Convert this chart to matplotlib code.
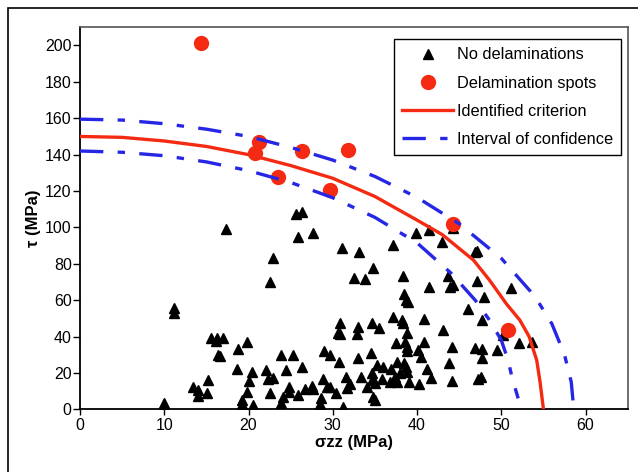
import matplotlib
matplotlib.use("Agg")
import matplotlib.pyplot as plt
from matplotlib.patches import Rectangle

# ---- data ----
no_delam_szz = [17.3, 22.9, 22.5, 11.1, 11.1, 15.6, 16.2, 17.0, 16.1, 19.8, 16.4, 16.6, 18.7, 18.6,
                20.4, 22.1, 22.3, 22.9, 20.1, 15.2, 13.4, 14.0, 14.0, 15.1, 22.5, 19.8, 19.2, 19.2,
                20.5, 10.0, 10.0,
                25.6, 26.3, 25.9, 27.6, 31.1, 33.1, 37.2, 39.9, 41.4, 43.0, 34.8, 32.5, 33.8, 38.3,
                41.4, 43.7, 43.9, 44.3, 38.4, 38.7, 38.9, 30.8, 30.6, 30.8, 33.0, 32.9, 34.6, 35.5,
                37.2, 38.2, 38.3, 40.8, 43.1, 38.8, 37.5, 38.6, 38.8, 40.8, 44.1, 23.8, 25.3, 28.9,
                29.7, 30.7, 33.0, 34.5, 38.8, 40.1, 40.5, 43.8, 24.4, 26.3, 24.8, 24.8, 24.1, 23.8,
                25.9, 26.7, 27.5, 27.7, 28.8, 29.3, 29.7, 28.6, 28.5, 30.4, 31.6, 31.7, 32.1, 31.2,
                33.4, 34.6, 34.7, 34.1, 35.0, 34.8, 35.0, 35.3, 36.0, 36.9, 37.6, 38.4, 38.7, 35.8,
                36.8, 37.4, 37.6, 38.0, 38.8, 39.1, 40.2, 41.2, 41.7, 44.1,
                44.3, 46.9, 47.1, 47.1, 48.0, 46.1, 51.1, 47.7, 50.2, 52.1, 53.6, 46.9, 47.7, 47.7,
                49.5, 47.2, 47.6]
no_delam_tau = [98.9, 83.0, 70.1, 55.5, 52.7, 39.0, 39.0, 39.0, 37.5, 37.1, 29.8, 29.4, 33.0, 22.0,
                20.7, 21.4, 16.5, 17.4, 15.4, 16.1, 12.4, 10.6, 7.3, 8.8, 9.2, 9.7, 5.3, 3.1,
                2.4, 2.0, 3.2,
                107.1, 108.6, 94.5, 96.7, 88.8, 86.3, 90.1, 96.7, 98.5, 91.9, 77.8, 72.0, 71.6, 73.2,
                67.0, 73.4, 67.0, 68.2, 63.2, 60.0, 59.1, 47.6, 41.8, 41.4, 45.4, 41.4, 47.2, 44.5,
                50.9, 49.1, 47.6, 49.5, 43.6, 42.1, 36.6, 37.1, 34.4, 37.1, 34.4, 30.0, 29.8, 32.2,
                29.8, 26.2, 28.0, 31.1, 32.2, 32.6, 28.9, 25.6, 21.6, 23.1, 12.1, 9.7, 6.9, 3.3,
                7.9, 11.0, 12.8, 11.0, 16.5, 12.4, 12.1, 6.0, 2.9, 8.8, 17.6, 11.5, 13.9, 1.1,
                17.9, 20.1, 16.1, 12.4, 14.3, 6.9, 5.1, 24.3, 23.4, 22.0, 26.2, 25.6, 23.4, 16.5,
                15.2, 17.9, 15.2, 19.8, 20.7, 15.2, 13.9, 22.0, 17.0, 15.7,
                99.5, 86.6, 87.1, 70.7, 61.5, 55.1, 66.5, 49.1, 40.8, 36.3, 37.1, 33.5, 33.0, 28.0,
                32.6, 16.6, 17.6]

delam_szz = [14.35, 20.8, 21.2, 23.5, 26.3, 29.7, 31.8, 44.3, 50.8]
delam_tau = [201.5, 141.0, 147.0, 127.8, 142.0, 120.5, 142.5, 102.0, 43.6]

crit_szz = [0, 5, 10, 15, 20, 25, 30, 35, 40, 43, 46.7, 48.6, 50.6, 52.2, 53.3, 54.2, 54.6, 55.0]
crit_tau = [150, 149.5, 147.5, 144.5, 140, 134, 127, 117, 104, 96, 82, 71, 58, 49, 40, 27, 15, 0]

upper_szz = [0, 5, 10, 15, 20, 25, 30, 35, 40, 45, 50, 54, 56, 57.5, 58.3, 58.6]
upper_tau = [159.5, 159, 157, 154, 150, 144, 137, 128, 116.5, 102, 83, 62, 47, 30, 15, 0]

lower_szz = [0, 5, 10, 15, 20, 25, 30, 35, 40, 44, 46.9, 48.6, 50.0, 50.8, 51.3, 52.0]
lower_tau = [142, 141.3, 139.4, 136, 131.2, 124.7, 116.3, 105.5, 91.5, 75, 60, 49, 38, 27, 17, 6]

x_ticks = [0, 10, 20, 30, 40, 50, 60]
y_ticks = [0, 20, 40, 60, 80, 100, 120, 140, 160, 180, 200]

labels = ["No delaminations", "Delamination spots", "Identified criterion", "Interval of confidence"]

# ---- style ----
plt.rcParams['font.family'] = ['Liberation Sans', 'DejaVu Sans']
RED = '#f42a12'
BLUE = '#2626e6'

fig = plt.figure(figsize=(6.38, 4.72), dpi=100)
W, H = 638, 472
ax = fig.add_axes([80 / W, 1 - 409.3 / H, (627.7 - 80) / W, (409.3 - 27.3) / H])

dash = (0, (7.0, 4.3, 2.2, 4.3))
ax.plot(no_delam_szz, no_delam_tau, linestyle='none', marker='^', ms=7.2,
        color='black', label=labels[0], zorder=3)
ax.plot(delam_szz, delam_tau, linestyle='none', marker='o', ms=11,
        color=RED, markeredgewidth=0, label=labels[1], zorder=4)
ax.plot(crit_szz, crit_tau, color=RED, lw=2.4, label=labels[2], zorder=5,
        solid_joinstyle='round')
ax.plot(upper_szz, upper_tau, color=BLUE, lw=2.4, linestyle=dash,
        label=labels[3], zorder=5)
ax.plot(lower_szz, lower_tau, color=BLUE, lw=2.4, linestyle=dash, zorder=5)

ax.set_xlim(0, 65)
ax.set_ylim(0, 210)
ax.set_xticks(x_ticks)
ax.set_yticks(y_ticks)
ax.tick_params(axis='both', direction='out', labelsize=11.5, colors='black')
ax.tick_params(axis='x', length=4.5, width=1, pad=2)
ax.tick_params(axis='y', length=5, width=1, pad=1)

for s in ['left', 'bottom']:
    ax.spines[s].set_color('black')
    ax.spines[s].set_linewidth(1.3)
for s in ['top', 'right']:
    ax.spines[s].set_color('#555555')
    ax.spines[s].set_linewidth(1.2)

ax.set_xlabel('σzz (MPa)', fontsize=12, fontweight='bold', labelpad=1)
ax.set_ylabel('τ (MPa)', fontsize=12, fontweight='bold', labelpad=3)

leg = ax.legend(loc='upper left', bbox_to_anchor=(394 / W, 1 - 39.3 / H),
                bbox_transform=fig.transFigure, borderaxespad=0, fontsize=11.8,
                frameon=True, fancybox=False, framealpha=1, edgecolor='black',
                handlelength=3.1, handletextpad=0.25, borderpad=0.5,
                labelspacing=0.8, numpoints=1)
leg.get_frame().set_linewidth(1.0)

# outer chart border (cut by the image edges on the right and bottom)
fig.patches.append(Rectangle((8 / W, -0.2), 1.2, 1.2 - 8 / H,
                             transform=fig.transFigure, fill=False,
                             edgecolor='black', lw=1.2))

fig.savefig('out.png', dpi=100)
